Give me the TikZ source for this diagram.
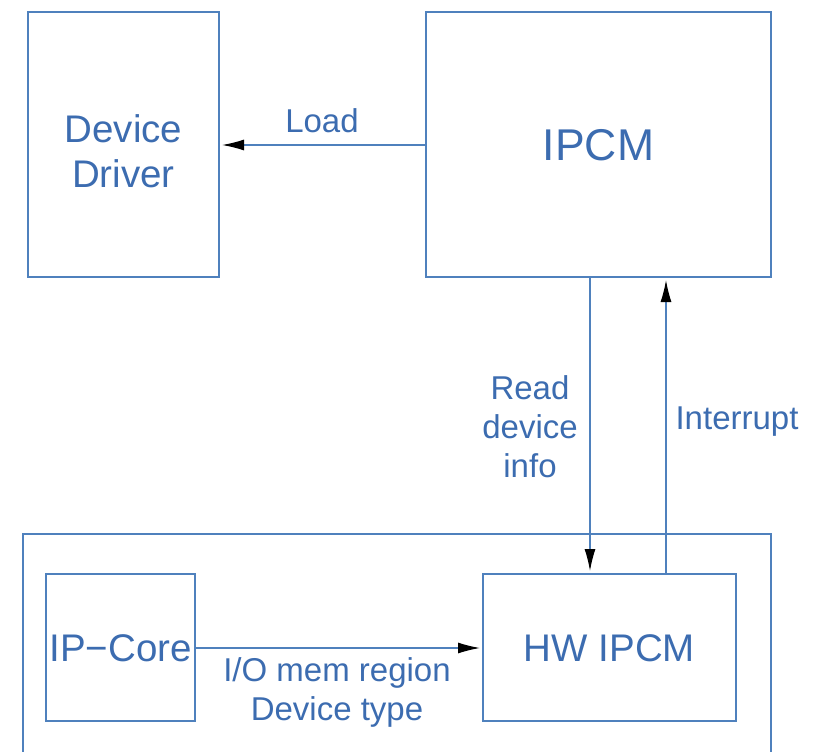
\documentclass[tikz,border=0pt]{standalone}
\usepackage{fontspec}
\setmainfont{Liberation Sans}
\usetikzlibrary{arrows.meta}
\definecolor{linec}{RGB}{79,129,189}
\definecolor{textc}{RGB}{60,108,176}
\begin{document}
\begin{tikzpicture}[x=1pt,y=-1pt,
  box/.style={draw=linec,line width=1.2pt},
  lbl/.style={text=textc,font=\fontsize{33}{39}\selectfont,align=center,inner sep=0pt},
  conn/.style={draw=linec,line width=1.2pt,shorten >=3pt,-{Latex[black,length=22pt,width=11pt]}}]
\useasboundingbox (0,0) rectangle (819,752);
% boxes
\draw[box] (28,12) rectangle (219,277);
\node[lbl,font=\fontsize{38.5}{45}\selectfont] (dd) at (123.5,151) {Device\\Driver};
\draw[box] (426,12) rectangle (771,277);
\node[lbl,font=\fontsize{44.5}{50}\selectfont] (ipcm) at (598.5,145) {IPCM};
\draw[box] (23,800) |- (771,534) -- (771,800);
\draw[box] (46,574) rectangle (195,721);
\node[lbl,font=\fontsize{38.5}{45}\selectfont] (ipc) at (120.5,648) {IP−Core};
\draw[box] (483,574) rectangle (736,721);
\node[lbl,font=\fontsize{38.5}{45}\selectfont] (hw) at (609.5,648) {HW IPCM};
% anchor points on box edges
\coordinate (ldA) at (426,145);
\coordinate (ldB) at (219,145);
\coordinate (rdA) at (590,277);
\coordinate (rdB) at (590,574);
\coordinate (inA) at (666,574);
\coordinate (inB) at (666,277);
\coordinate (ioA) at (195,648);
\coordinate (ioB) at (483,648);
% connectors
\draw[conn] (ldA) -- (ldB);
\draw[conn] (rdA) -- (rdB);
\draw[conn] (inA) -- (inB);
\draw[conn] (ioA) -- (ioB);
% labels
\node[lbl] (load) at (322,121) {Load};
\node[lbl] (read) at (530,427) {Read\\device\\info};
\node[lbl] (intr) at (737,422) {Interrupt};
\node[lbl] (io) at (337,692) {I/O mem region\\Device type};
\end{tikzpicture}
\end{document}
